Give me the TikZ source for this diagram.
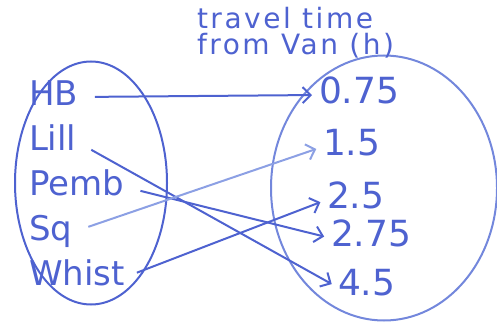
\documentclass[tikz,border=0pt]{standalone}
\usepackage{fontspec}
\setmainfont{DejaVu Sans}
\usetikzlibrary{arrows.meta, positioning, shapes.geometric}
\definecolor{penblue}{RGB}{78,98,208}
\definecolor{paleblue}{RGB}{140,160,228}

\begin{document}
\begin{tikzpicture}[
  x=1pt, y=-1pt,
  node distance = 10pt,
  >={Straight Barb[length=8pt,width=16pt]},  % Arrow tip
  line width=2pt,
  % Define label styles
  placeblock/.style={
    text=penblue,
    font=\fontsize{34}{34}\selectfont,
    text height=25pt,
    text depth=8pt,
    inner sep=0pt,
    anchor=west
  },
  timeblock/.style={
    placeblock,
    font=\fontsize{36}{36}\selectfont
  },
  setoval/.style={
    draw=penblue,
    ellipse,
    inner sep=0pt
  },
  % Arrows style
  mapsto/.style={
    ->,
    penblue,
    shorten <=16pt,
    shorten >=6pt
  }
]
\useasboundingbox (0,0) rectangle (497,323);

% -----------------------------------------------
% SETS
% -----------------------------------------------
\node[setoval, minimum width=152pt, minimum height=243pt] (places) at (91,183) {};
\node[setoval, draw=paleblue!60!penblue, minimum width=226pt, minimum height=265pt] (times) at (384,188) {};

\node[text=penblue, font=\fontsize{28}{26}\selectfont\addfontfeature{LetterSpace=9}, align=left, anchor=west, inner sep=0pt] (title) at (196,33) {travel time\\from Van (h)};

% -----------------------------------------------
% PLACES
% -----------------------------------------------
\node[placeblock] (hb) at (28,97) {HB};
\node[placeblock, below=of hb.south west, anchor=north west] (lill) {Lill};
\node[placeblock, below=of lill.south west, anchor=north west] (pemb) {Pemb};
\node[placeblock, below=of pemb.south west, anchor=north west] (sq) {Sq};
\node[placeblock, below=of sq.south west, anchor=north west] (whist) {Whist};

% -----------------------------------------------
% TIMES
% -----------------------------------------------
\node[timeblock] (t075) at (318,95) {0.75};
\node[timeblock] (t15) at (322,147) {1.5};
\node[timeblock] (t25) at (326,200) {2.5};
\node[timeblock] (t275) at (330,238) {2.75};
\node[timeblock] (t45) at (337,287) {4.5};

% -----------------------------------------------
% ARROWS
% -----------------------------------------------
\draw[mapsto] (hb.east) -- (t075.west);
\draw[mapsto] (lill.east) -- (t45.west);
\draw[mapsto] (pemb.east) -- (t275.west);
\draw[mapsto, paleblue] (sq.east) -- (t15.west);
\draw[mapsto, shorten <=12pt] (whist.east) -- (t25.west);

\end{tikzpicture}
\end{document}
